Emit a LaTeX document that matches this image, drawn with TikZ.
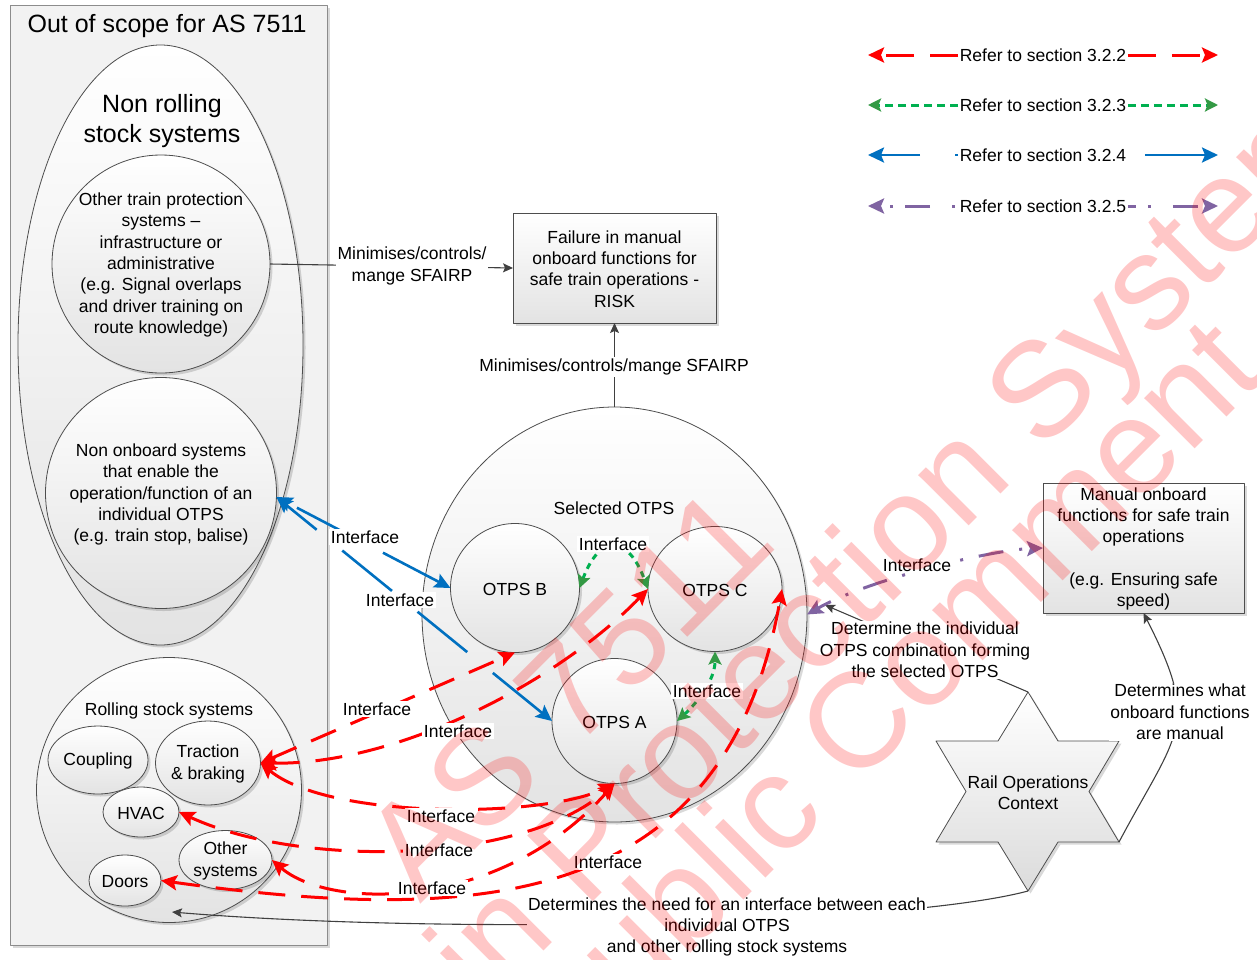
\documentclass[tikz,border=0pt]{standalone}
\usepackage{fontspec}
\setmainfont{Liberation Sans}
\usetikzlibrary{arrows.meta,shapes.geometric,shadows}

\definecolor{ifRed}{HTML}{FF0000}
\definecolor{ifGreen}{HTML}{00B050}
\definecolor{ifGreenTip}{HTML}{339944}
\definecolor{ifBlue}{HTML}{0070C0}
\definecolor{ifPurple}{HTML}{8064A2}
\definecolor{connGrey}{HTML}{404040}
\definecolor{edgeGrey}{HTML}{4D4D4D}
\definecolor{frameFill}{HTML}{F2F2F2}

\tikzset{
  redtip/.tip={Stealth[length=16pt,width=15pt,inset=3pt]},
  bluetip/.tip={Stealth[length=16pt,width=15pt,inset=3pt]},
  greentip/.tip={Stealth[length=13pt,width=13pt,inset=2.5pt,color=ifGreenTip]},
  purpletip/.tip={Stealth[length=16pt,width=15pt,inset=3pt]},
  greytip/.tip={Stealth[length=10pt,width=9pt,inset=2pt]},
  txt/.style={font=\fontsize{17.5}{21.3}\selectfont, align=center, inner sep=0pt},
  bigtxt/.style={font=\fontsize{25}{30}\selectfont, align=center, inner sep=0pt},
  lbl/.style={txt, fill=white, inner sep=1.5pt},
  outlined/.style={draw=edgeGrey, line width=0.8pt},
  gradfill/.style={top color=white, bottom color=black!11},
  softshadow/.style={drop shadow={shadow xshift=2.5pt, shadow yshift=-2.5pt, opacity=0.15, fill=black}},
  oval/.style={ellipse, outlined, gradfill, softshadow, inner sep=0pt, outer sep=0pt},
  disc/.style={circle, outlined, gradfill, softshadow, inner sep=0pt, outer sep=0pt},
  panel/.style={rectangle, outlined, gradfill, softshadow, inner sep=0pt, outer sep=0pt},
  redln/.style={draw=ifRed, line width=3pt, dash pattern=on 27pt off 16pt, arrows={redtip-redtip}},
  blueln/.style={draw=ifBlue, line width=2.6pt, dash pattern=on 64pt off 33pt, arrows={bluetip-bluetip}},
  greenln/.style={draw=ifGreen, line width=3pt, dash pattern=on 6pt off 5pt, arrows={greentip-greentip}},
  purpleln/.style={draw=ifPurple, line width=3pt, dash pattern=on 25pt off 16pt on 3pt off 16pt, dash phase=10pt, arrows={purpletip-purpletip}},
  greyln/.style={draw=connGrey, line width=1.1pt, arrows={-greytip}},
  wm/.style={font=\fontsize{135}{160}\selectfont, text=ifRed, text opacity=0.22, inner sep=0pt, anchor=base west, rotate=45},
}

\begin{document}
\begin{tikzpicture}[x=1pt,y=1pt,line join=round]
\useasboundingbox (0,0) rectangle (1257,-959);

% ---------- out-of-scope frame ----------
\node[outlined, draw=black!45, fill=frameFill, softshadow, minimum width=317pt, minimum height=940pt, inner sep=0pt] (scope) at (168.5,-475) {};
\node[bigtxt] (scopeTitle) at (167,-26) {Out of scope for AS 7511};

% ---------- non rolling stock systems ----------
\node[oval, minimum width=285pt, minimum height=600pt] (nonRoll) at (160.5,-345) {};
\node[bigtxt] (nonRollTitle) at (162,-121) {Non rolling\\stock systems};
\node[disc, minimum size=218pt] (otherTP) at (161,-264) {};
\node[txt] (otherTPtext) at (161,-265) {Other train protection\\systems –\\infrastructure or\\administrative\\(e.g. Signal overlaps\\and driver training on\\route knowledge)};
\node[disc, minimum size=231pt] (nonOB) at (161,-493) {};
\node[txt] (nonOBtext) at (161,-494.5) {Non onboard systems\\that enable the\\operation/function of an\\individual OTPS\\(e.g. train stop, balise)};

% ---------- rolling stock systems ----------
\node[disc, minimum size=265pt] (rolling) at (169,-790) {};
\node[txt] (rollingTitle) at (169,-711) {Rolling stock systems};
\node[oval, minimum width=100pt, minimum height=68pt] (coupling) at (98,-760) {};
\node[txt] (couplingText) at (98,-761) {Coupling};
\node[oval, minimum width=105pt, minimum height=84pt] (traction) at (208,-763) {};
\node[txt] (tractionText) at (208,-764) {Traction\\\& braking};
\node[oval, minimum width=76pt, minimum height=50pt] (hvac) at (141,-812) {};
\node[txt] (hvacText) at (141,-813) {HVAC};
\node[oval, minimum width=93pt, minimum height=59pt] (otherSys) at (225.5,-860) {};
\node[txt] (otherSysText) at (225.5,-861) {Other\\systems};
\node[oval, minimum width=72pt, minimum height=51pt] (doors) at (125,-880.5) {};
\node[txt] (doorsText) at (125,-881.5) {Doors};

% ---------- risk box ----------
\node[panel, minimum width=203pt, minimum height=110pt] (risk) at (614.5,-268) {};
\node[txt] (riskText) at (614.5,-269) {Failure in manual\\onboard functions for\\safe train operations -\\RISK};

% ---------- selected OTPS ----------
\node[oval, minimum width=385pt, minimum height=415pt] (sel) at (614.5,-614.5) {};
\node[txt] (selTitle) at (614,-508) {Selected OTPS};
\node[disc, minimum size=129pt] (otpsB) at (515,-588) {};
\node[txt] (otpsBtext) at (515,-589) {OTPS B};
\node[oval, minimum width=134pt, minimum height=125pt] (otpsC) at (715,-589) {};
\node[txt] (otpsCtext) at (715,-590) {OTPS C};
\node[disc, minimum size=125pt] (otpsA) at (614.5,-721) {};
\node[txt] (otpsAtext) at (614.5,-722) {OTPS A};

% ---------- manual functions box ----------
\node[panel, minimum width=201pt, minimum height=130pt] (manual) at (1143.5,-548) {};
\node[txt] (manualText) at (1143.5,-549) {Manual onboard\\functions for safe train\\operations\\[21.3pt](e.g. Ensuring safe\\speed)};

% ---------- rail operations context (hexagram) ----------
\coordinate (starN) at (1028,-692);
\coordinate (starNE) at (1119,-741);
\coordinate (starSE) at (1119,-842);
\coordinate (starS) at (1028,-891);
\coordinate (starSW) at (936,-842);
\coordinate (starNW) at (936,-741);
\draw[outlined, top color=white, bottom color=black!14, softshadow] (starN) -- (1058,-741) -- (starNE) -- (1089,-791.5) -- (starSE) -- (1058,-842) -- (starS) -- (998,-842) -- (starSW) -- (966,-791.5) -- (starNW) -- (998,-741) -- cycle;
\node[txt] (railOps) at (1028,-793) {Rail Operations\\Context};

% ---------- grey relations ----------
\coordinate (k3end) at (825,-605);
\coordinate (k5end) at (172,-912);
\draw[greyln] (otherTP.east) -- (risk.west);
\draw[greyln] (sel.north) -- (risk.south);
\draw[greyln] (starN) -- (k3end);
\draw[greyln] (starSE) .. controls (1178,-731) and (1201,-726) .. (manual.south);
\draw[greyln] (starS) .. controls (900,-925) and (450,-935) .. (k5end);

% ---------- interfaces ----------
\draw[blueln] (otpsB.west) -- (nonOB.-2);
\draw[blueln] (otpsA.west) -- (nonOB.-2);

\draw[redln] (traction.east) -- (otpsB.south);
\draw[redln] (traction.east) .. controls (400,-765) and (560,-680) .. (otpsC.west);
\draw[redln] (traction.east) .. controls (330,-820) and (545,-818) .. (otpsA.south);
\draw[redln] (hvac.east) .. controls (300,-868) and (520,-865) .. (otpsA.south);
\draw[redln] (otherSys.east) .. controls (330,-910) and (500,-912) .. (otpsA.south);
\draw[redln] (doors.east) .. controls (480,-925) and (725,-909) .. (otpsC.east);

\draw[greenln] (otpsB.east) .. controls (600,-533) and (628,-535) .. (otpsC.west);
\draw[greenln] (otpsA.east) .. controls (697,-703) and (715,-680) .. (otpsC.south);

\draw[purpleln] (sel.east) .. controls (867,-580) and (990,-550) .. (manual.west);

% ---------- connector labels ----------
\node[lbl] (ifB1) at (365,-537) {Interface};
\node[lbl] (ifB2) at (400,-600) {Interface};
\node[lbl] (ifG1) at (613,-544) {Interface};
\node[lbl] (ifG2) at (707,-691) {Interface};
\node[lbl] (ifR1) at (377,-709) {Interface};
\node[lbl] (ifR2) at (458,-731) {Interface};
\node[lbl] (ifR3) at (441,-816) {Interface};
\node[lbl] (ifR4) at (439,-850) {Interface};
\node[lbl] (ifR5) at (432,-888) {Interface};
\node[lbl] (ifR6) at (608,-862) {Interface};
\node[lbl] (ifP1) at (917,-565) {Interface};
\node[lbl] (relK1) at (412,-266) {Minimises/controls/\\mange SFAIRP};
\node[lbl] (relK2) at (614,-367) {Minimises/controls/mange SFAIRP};
\node[lbl] (relK3) at (925,-650) {Determine the individual\\OTPS combination forming\\the selected OTPS};
\node[lbl] (relK4) at (1180,-712) {Determines what\\onboard functions\\are manual};
\node[lbl] (relK5) at (727,-927) {Determines the need for an interface between each\\individual OTPS\\and other rolling stock systems};

% ---------- legend ----------
\node[lbl] (leg1) at (1043,-55) {Refer to section 3.2.2};
\node[lbl] (leg2) at (1043,-105) {Refer to section 3.2.3};
\node[lbl] (leg3) at (1043,-155) {Refer to section 3.2.4};
\node[lbl] (leg4) at (1043,-206) {Refer to section 3.2.5};
\coordinate (leg1L) at (868,-55);  \coordinate (leg1R) at (1218,-55);
\coordinate (leg2L) at (868,-105); \coordinate (leg2R) at (1218,-105);
\coordinate (leg3L) at (868,-155); \coordinate (leg3R) at (1218,-155);
\coordinate (leg4L) at (868,-206); \coordinate (leg4R) at (1218,-206);
\draw[redln, dash pattern=on 28pt off 16pt, arrows={-redtip}] (leg1.west) -- (leg1L);
\draw[redln, dash pattern=on 28pt off 16pt, arrows={-redtip}] (leg1.east) -- (leg1R);
\draw[greenln, dash pattern=on 8pt off 5pt, arrows={-greentip}] (leg2.west) -- (leg2L);
\draw[greenln, dash pattern=on 8pt off 5pt, arrows={-greentip}] (leg2.east) -- (leg2R);
\draw[blueln, dash pattern=on 3pt off 35pt on 90pt off 35pt, arrows={-bluetip}] (leg3.west) -- (leg3L);
\draw[blueln, dash pattern=on 100pt off 17pt, dash phase=100pt, arrows={-bluetip}] (leg3.east) -- (leg3R);
\draw[purpleln, dash pattern=on 3pt off 22pt on 25pt off 12pt, dash phase=59pt, arrows={-purpletip}] (leg4.west) -- (leg4L);
\draw[purpleln, dash pattern=on 3pt off 22pt on 25pt off 12pt, dash phase=42pt, arrows={-purpletip}] (leg4.east) -- (leg4R);

% ---------- draft watermark ----------
\begin{scope}
  \clip (0,0) rectangle (1257,-959);
  \node[wm] (wmA) at (420,-905) {AS 7511};
  \node[wm] (wmB) at (345,-1150) {Train Protection Systems};
  \node[wm] (wmC) at (568,-1076) {Public Comment};
\end{scope}
\end{tikzpicture}
\end{document}
